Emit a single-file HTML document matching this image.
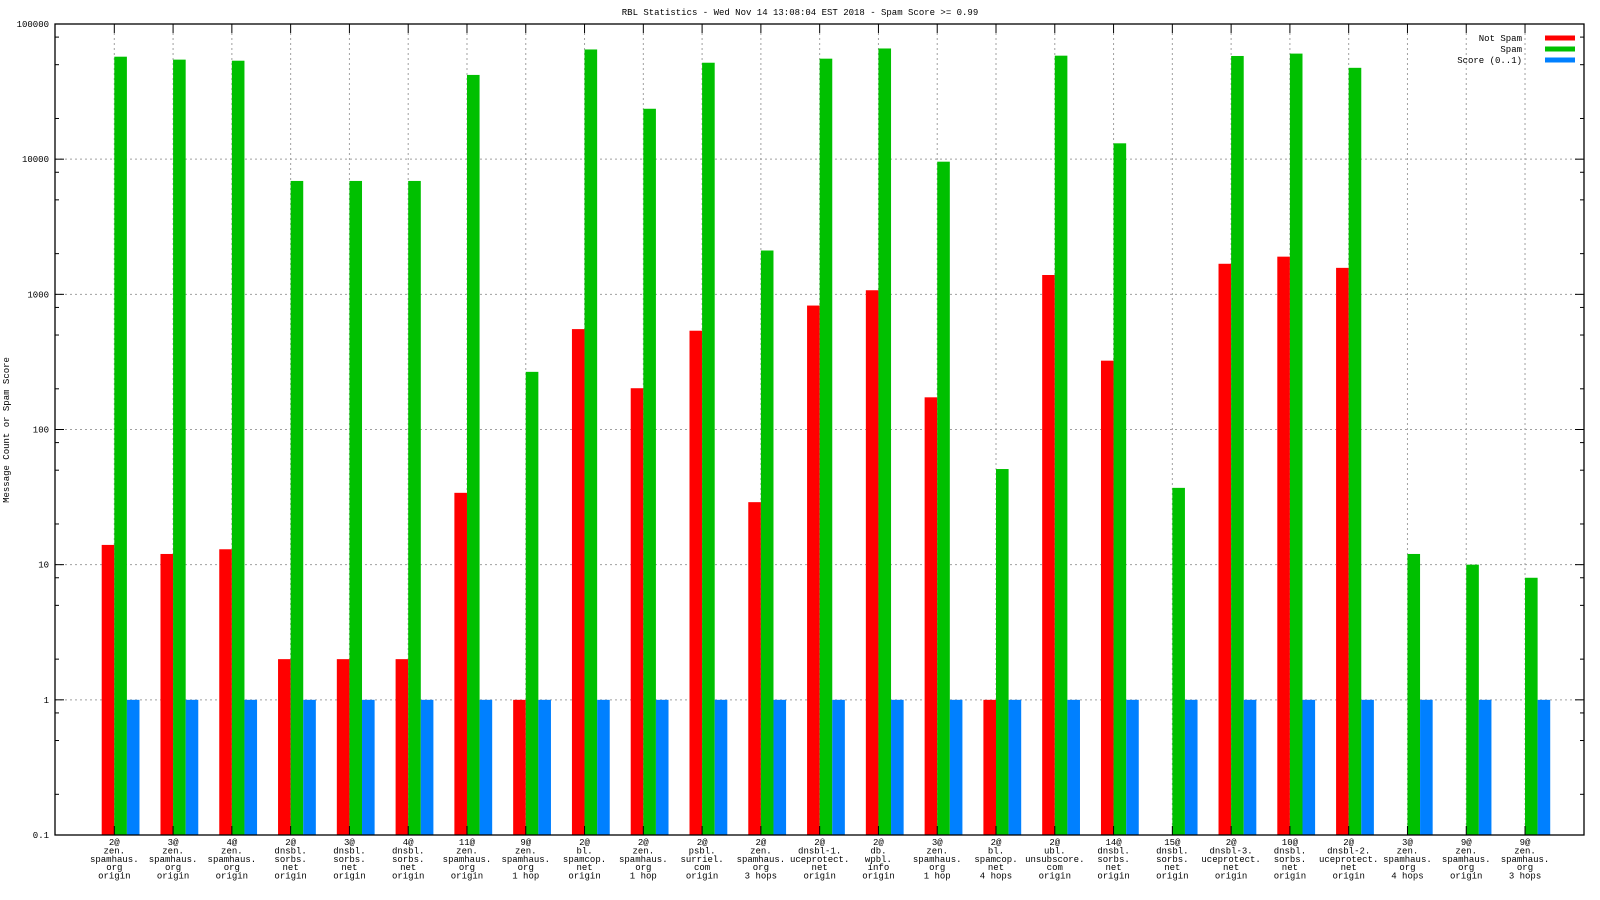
<!DOCTYPE html>
<html><head><meta charset="utf-8"><style>
html,body{margin:0;padding:0;background:#fff;}
svg{display:block;font-family:"Liberation Mono","DejaVu Sans Mono",monospace;}
</style></head><body>
<svg id="chart" width="1600" height="900" viewBox="0 0 1600 900" xmlns="http://www.w3.org/2000/svg">
<text x="800" y="15" font-size="9" text-anchor="middle">RBL Statistics - Wed Nov 14 13:08:04 EST 2018 - Spam Score &gt;= 0.99</text>
<text transform="translate(9,430) rotate(-90)" font-size="9" text-anchor="middle">Message Count or Spam Score</text>
<g id="grid"></g>
<g id="bars"></g>
<g id="axes"></g>
<g id="legend"></g>
</svg>
<script>
const categories = [
 ["2@","zen.","spamhaus.","org","origin"],["3@","zen.","spamhaus.","org","origin"],["4@","zen.","spamhaus.","org","origin"],
 ["2@","dnsbl.","sorbs.","net","origin"],["3@","dnsbl.","sorbs.","net","origin"],["4@","dnsbl.","sorbs.","net","origin"],
 ["11@","zen.","spamhaus.","org","origin"],["9@","zen.","spamhaus.","org","1 hop"],["2@","bl.","spamcop.","net","origin"],
 ["2@","zen.","spamhaus.","org","1 hop"],["2@","psbl.","surriel.","com","origin"],["2@","zen.","spamhaus.","org","3 hops"],
 ["2@","dnsbl-1.","uceprotect.","net","origin"],["2@","db.","wpbl.","info","origin"],["3@","zen.","spamhaus.","org","1 hop"],
 ["2@","bl.","spamcop.","net","4 hops"],["2@","ubl.","unsubscore.","com","origin"],["14@","dnsbl.","sorbs.","net","origin"],
 ["15@","dnsbl.","sorbs.","net","origin"],["2@","dnsbl-3.","uceprotect.","net","origin"],["10@","dnsbl.","sorbs.","net","origin"],
 ["2@","dnsbl-2.","uceprotect.","net","origin"],["3@","zen.","spamhaus.","org","4 hops"],["9@","zen.","spamhaus.","org","origin"],
 ["9@","zen.","spamhaus.","org","3 hops"]
];
const notSpam = [14,12,13,2,2,2,34,1,553,202,538,29,826,1072,173,1,1390,323,null,1683,1900,1570,null,null,null];
const spam = [57300,54500,53500,6900,6900,6900,42000,267,64800,23600,51700,2110,55400,65900,9580,51,58300,13100,37,58000,60400,47400,12,10,8];
const score = [1,1,1,1,1,1,1,1,1,1,1,1,1,1,1,1,1,1,1,1,1,1,1,1,1];
const yTicks = [0.1,1,10,100,1000,10000,100000];
const yTickLabels = ["0.1","1","10","100","1000","10000","100000"];

const NS="http://www.w3.org/2000/svg";
const L=55,R=1584,T=24,B=835;
const c0=114.3, step=58.78, bw=12.6;
function xPos(i){return c0+i*step;}
function yPos(v){return T+(5-Math.log10(v))*(B-T)/6;}
function mk(tag,attrs,parent){const e=document.createElementNS(NS,tag);for(const k in attrs)e.setAttribute(k,attrs[k]);parent.appendChild(e);return e;}
const grid=document.getElementById('grid'),bars=document.getElementById('bars'),axes=document.getElementById('axes'),legend=document.getElementById('legend');

yTicks.forEach((v,k)=>{
  const y=yPos(v);
  if(k>0&&k<yTicks.length-1){const g=mk('line',{x1:L,x2:R,y1:y,y2:y,stroke:'#a0a0a0','stroke-dasharray':'2,3'},grid);
  
  }
  mk('line',{x1:L,x2:L+9,y1:y,y2:y,stroke:'#000'},axes);
  mk('line',{x1:R-9,x2:R,y1:y,y2:y,stroke:'#000'},axes);
  const t=mk('text',{x:L-6,y:y+3,'font-size':9,'text-anchor':'end'},axes);
  t.textContent=yTickLabels[k];
  
  
  if(k<yTicks.length-1){[2,5,8].forEach(m=>{const ym=yPos(v*m);
    mk('line',{x1:L,x2:L+4,y1:ym,y2:ym,stroke:'#000'},axes);
    mk('line',{x1:R-4,x2:R,y1:ym,y2:ym,stroke:'#000'},axes);});}
});
categories.forEach((lab,i)=>{
  const x=xPos(i);
  const g=mk('line',{x1:x,x2:x,y1:T+9,y2:B-9,stroke:'#a0a0a0','stroke-dasharray':'2,3'},grid);
  
  
  mk('line',{x1:x,x2:x,y1:T,y2:T+9,stroke:'#000'},axes);
  mk('line',{x1:x,x2:x,y1:B-9,y2:B,stroke:'#000'},axes);
  const t=mk('text',{x:x,y:845,'font-size':9,'text-anchor':'middle'},axes);
  
  
  lab.forEach((s,j)=>{const ts=mk('tspan',{x:x,dy:j?8.4:0},t);ts.textContent=s;});
  const series=[[notSpam[i],'#ff0000',-bw,'bar-not-spam'],[spam[i],'#00c000',0,'bar-spam'],[score[i],'#0080ff',bw,'bar-score']];
  series.forEach(([v,col,off,nm])=>{
    if(v==null)return;
    const y=yPos(v);
    const r=mk('rect',{x:x+off,y:y,width:bw,height:B-y,fill:col},bars);
    
    
  });
});
const frame=mk('rect',{x:L,y:T,width:R-L,height:B-T,fill:'none',stroke:'#000','stroke-width':1.3},axes);


[["Not Spam","#ff0000"],["Spam","#00c000"],["Score (0..1)","#0080ff"]].forEach(([s,c],k)=>{
  const y=38+k*11;
  const t=mk('text',{x:1522,y:y+3,'font-size':9,'text-anchor':'end'},legend);
  t.textContent=s;
  
  
  mk('rect',{x:1545,y:y-2.5,width:30,height:5,fill:c},legend);
});
</script>
</body></html>
